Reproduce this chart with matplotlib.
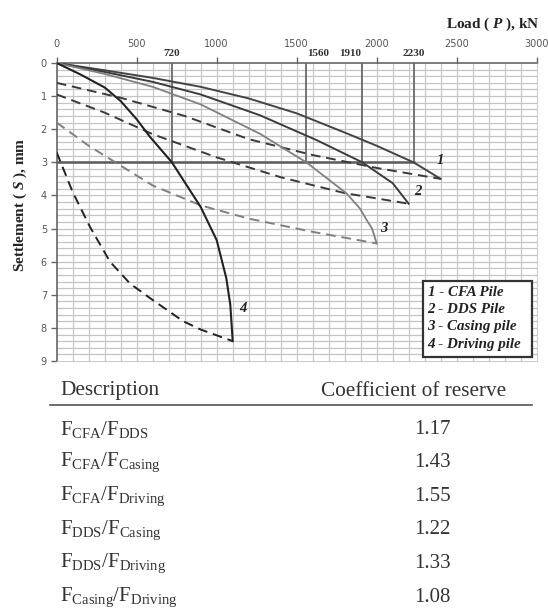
import matplotlib
matplotlib.use("Agg")
import matplotlib.pyplot as plt
from matplotlib.patches import Rectangle
import numpy as np

plt.rcParams['mathtext.fontset'] = 'custom'
plt.rcParams['mathtext.rm'] = 'Liberation Serif'
plt.rcParams['mathtext.it'] = 'Liberation Serif:italic'
plt.rcParams['mathtext.bf'] = 'Liberation Serif:bold'
plt.rcParams['mathtext.bfit'] = 'Liberation Serif:bold:italic'

# ---- data ----
c1_load = [0, 300, 600, 900, 1200, 1500, 1800, 2000, 2230, 2400]
c1_set = [0, 0.22, 0.45, 0.72, 1.07, 1.52, 2.1, 2.5, 3.0, 3.5]
c1u_load = [0, 400, 800, 1200, 1600, 2000, 2400]
c1u_set = [0.6, 1.05, 1.6, 2.3, 2.78, 3.17, 3.5]

c2_load = [0, 300, 600, 900, 1271, 1625, 1910, 2100, 2200]
c2_set = [0, 0.27, 0.57, 0.95, 1.58, 2.33, 3.0, 3.63, 4.25]
c2u_load = [0, 300, 600, 1000, 1400, 1800, 2200]
c2u_set = [0.95, 1.5, 2.15, 2.85, 3.45, 3.93, 4.25]

c3_load = [0, 300, 600, 900, 1271, 1560, 1812, 1896, 1937, 1971, 2000]
c3_set = [0, 0.33, 0.72, 1.25, 2.14, 3.0, 3.94, 4.4, 4.74, 5.0, 5.45]
c3u_load = [0, 200, 350, 600, 900, 1200, 1600, 2000]
c3u_set = [1.8, 2.5, 2.95, 3.7, 4.3, 4.7, 5.1, 5.45]

c4_load = [0, 150, 300, 400, 500, 583, 720, 900, 1000, 1060, 1085, 1100]
c4_set = [0, 0.35, 0.74, 1.15, 1.7, 2.23, 3.0, 4.35, 5.35, 6.5, 7.3, 8.4]
c4u_load = [0, 100, 208, 333, 458, 583, 791, 900, 1100]
c4u_set = [2.7, 3.9, 4.95, 6.0, 6.66, 7.1, 7.8, 8.05, 8.4]

crit_loads = [720, 1560, 1910, 2230]
crit_settlement = 3

x_ticks = [0, 500, 1000, 1500, 2000, 2500, 3000]
y_ticks = list(range(0, 10))
legend_lines = ["1 - CFA Pile", "2 - DDS Pile", "3 - Casing pile", "4 - Driving pile"]
curve_labels = ["1", "2", "3", "4"]

desc_rows = [r"$\mathrm{F}_{\mathrm{CFA}}/\mathrm{F}_{\mathrm{DDS}}$",
             r"$\mathrm{F}_{\mathrm{CFA}}/\mathrm{F}_{\mathrm{Casing}}$",
             r"$\mathrm{F}_{\mathrm{CFA}}/\mathrm{F}_{\mathrm{Driving}}$",
             r"$\mathrm{F}_{\mathrm{DDS}}/\mathrm{F}_{\mathrm{Casing}}$",
             r"$\mathrm{F}_{\mathrm{DDS}}/\mathrm{F}_{\mathrm{Driving}}$",
             r"$\mathrm{F}_{\mathrm{Casing}}/\mathrm{F}_{\mathrm{Driving}}$"]
coef_values = ["1.17", "1.43", "1.55", "1.22", "1.33", "1.08"]

W, H = 548, 612
fig = plt.figure(figsize=(W / 100, H / 100), dpi=100)
ax = fig.add_axes([56.7 / W, 1 - 361 / H, 480 / W, 298 / H])
ax.set_xlim(0, 3000)
ax.set_ylim(9, 0)

# grid
grid_c = '#c4c4c4'
for xv in np.arange(100, 3000, 100):
    ax.axvline(xv, color=grid_c, lw=0.8, zorder=1)
for yv in np.arange(0.2, 9.0, 0.2):
    ax.axhline(yv, color=grid_c, lw=0.9, zorder=1)

for s in ['top', 'left']:
    ax.spines[s].set_color('#666666')
    ax.spines[s].set_linewidth(1.2)
for s in ['bottom', 'right']:
    ax.spines[s].set_color('#cccccc')
    ax.spines[s].set_linewidth(0.8)

ax.xaxis.tick_top()
ax.set_xticks(x_ticks)
ax.set_xticklabels([str(v) for v in x_ticks], fontsize=7, color='#555555')
ax.set_yticks(y_ticks)
ax.set_yticklabels([str(v) for v in y_ticks], fontsize=7, color='#555555')
ax.tick_params(axis='both', direction='out', length=4, width=1, color='#666666', pad=3)
ax.tick_params(axis='x', pad=6)

# critical lines
for cl in crit_loads:
    ax.plot([cl, cl], [0, crit_settlement], color='#6a6a6a', lw=1.3, zorder=3)
ax.plot([0, crit_loads[-1]], [crit_settlement, crit_settlement], color='#5a5a5a', lw=1.8, zorder=3)
ax.plot([crit_loads[-1], 2370], [crit_settlement, crit_settlement], color='#aaaaaa', lw=1.0, zorder=3)

# curves
dark = '#3a3a3a'
gray = '#808080'
ax.plot(c1_load, c1_set, color='#444444', lw=1.4, zorder=4)
ax.plot(c1u_load, c1u_set, color=dark, lw=1.4, ls=(0, (5, 3)), zorder=4)
ax.plot(c2_load, c2_set, color='#3c3c3c', lw=1.4, zorder=4)
ax.plot(c2u_load, c2u_set, color=dark, lw=1.4, ls=(0, (5, 3)), zorder=4)
ax.plot(c3_load, c3_set, color=gray, lw=1.3, zorder=4)
ax.plot(c3u_load, c3u_set, color=gray, lw=1.4, ls=(0, (5, 3)), zorder=4)
ax.plot(c4_load, c4_set, color='#222222', lw=1.5, zorder=4)
ax.plot(c4u_load, c4u_set, color='#222222', lw=1.4, ls=(0, (5, 3)), zorder=4)

lab_font = dict(family='Liberation Serif', fontweight='bold', fontstyle='italic', fontsize=10.5, color='#222222')
ax.text(2400, 2.95, curve_labels[0], ha='center', va='center', **lab_font)
ax.text(2260, 3.89, curve_labels[1], ha='center', va='center', **lab_font)
ax.text(2042, 4.99, curve_labels[2], ha='center', va='center', **lab_font)
ax.text(1167, 7.41, curve_labels[3], ha='center', va='center', **lab_font)

# critical load labels (bold)
crit_font = dict(family='Liberation Serif', fontweight='bold', fontsize=8, color='#333333')
ax.text(720, -0.3, "720", ha='center', va='center', **crit_font)
ax.text(1565, -0.3, "1560", ha='left', va='center', **crit_font)
ax.text(1905, -0.3, "1910", ha='right', va='center', **crit_font)
ax.text(2230, -0.3, "2230", ha='center', va='center', **crit_font)

# legend box
ax.add_patch(Rectangle((2289, 6.59), 680, 2.29, facecolor='white', edgecolor='#333333', lw=1.6, zorder=6))
leg_font = dict(family='Liberation Serif', fontweight='bold', fontstyle='italic', fontsize=10.8, color='#222222')
for i, t in enumerate(legend_lines):
    ax.text(2318, 6.93 + i * 0.52, t, ha='left', va='center', zorder=7, **leg_font)

# axis titles
fig.text(540 / W, 1 - 24 / H, r"Load ( $\mathbfit{P}$ ), kN", ha='right', va='center',
         family='Liberation Serif', fontweight='bold', fontsize=11, color='#222222')
fig.text(20 / W, 1 - 205 / H, r"Settlement ( $\mathbfit{S}$ ), mm", ha='center', va='center', rotation=90,
         family='Liberation Serif', fontweight='bold', fontsize=11, color='#222222')

# table
tfont = dict(family='Liberation Serif', fontsize=15.3, color='#333333')
fig.text(60 / W, 1 - 391 / H, "Description", ha='left', va='center', **tfont)
fig.text(414 / W, 1 - 391 / H, "Coefficient of reserve", ha='center', va='center', **tfont)
fig.add_artist(plt.Line2D([50 / W, 532 / W], [1 - 405 / H, 1 - 405 / H], color='#555555', lw=1.2))
rfont = dict(family='Liberation Serif', fontsize=15, color='#333333')
for i, (d, v) in enumerate(zip(desc_rows, coef_values)):
    yy = 1 - (429 + i * 33.6) / H
    fig.text(60 / W, yy, d, ha='left', va='center', **rfont)
    fig.text(432 / W, yy, v, ha='center', va='center', **rfont)

fig.savefig("out.png", dpi=100)
